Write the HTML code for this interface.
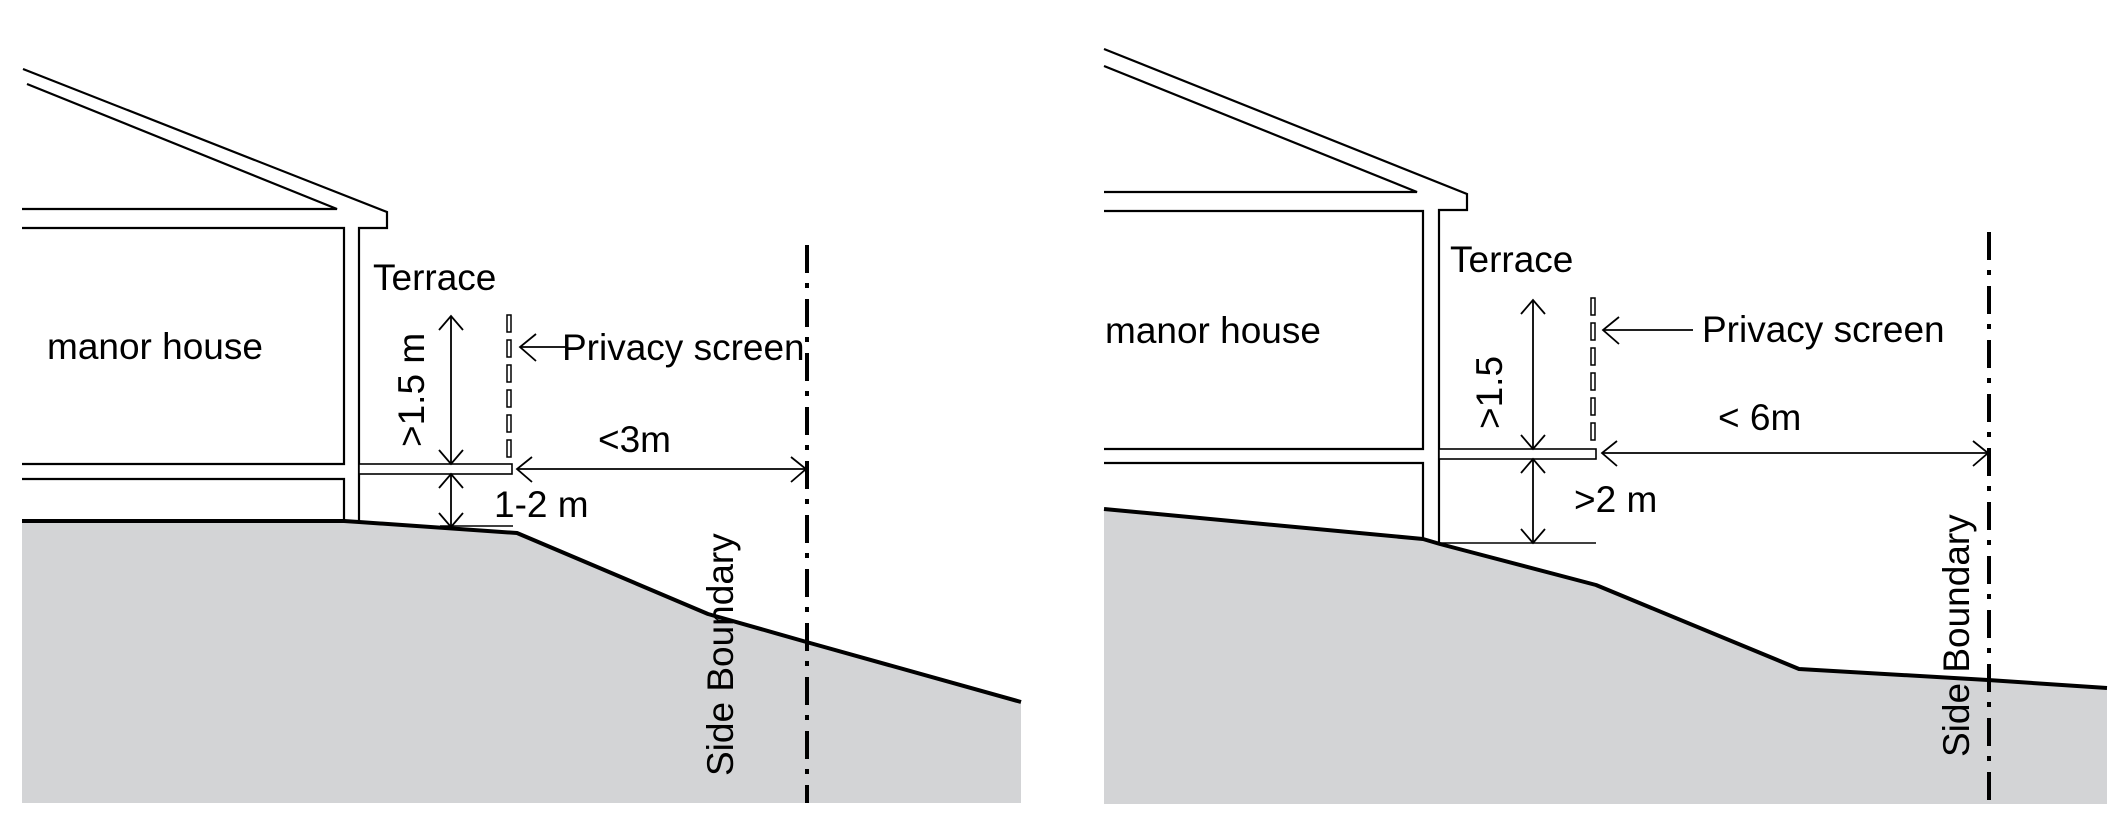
<!DOCTYPE html>
<html>
<head>
<meta charset="utf-8">
<style>
  html, body { margin: 0; padding: 0; background: #ffffff; }
  svg { display: block; }
  text { font-family: "Liberation Sans", Arial, sans-serif; font-size: 37px; fill: #000; }
</style>
</head>
<body>
<svg width="2126" height="825" viewBox="0 0 2126 825" xmlns="http://www.w3.org/2000/svg">
  <rect x="0" y="0" width="2126" height="825" fill="#ffffff"/>

  <!-- ================= LEFT PANEL ================= -->
  <!-- ground fill -->
  <polygon points="22,521 344,521 359,522 517,533 708,614 810,643 1021,702 1021,803 22,803" fill="#d3d4d6"/>
  <polyline points="22,521 344,521 359,522 517,533 708,614 810,643 1021,702" fill="none" stroke="#000" stroke-width="4" stroke-linejoin="round"/>

  <!-- house -->
  <g fill="none" stroke="#000" stroke-width="2.2" stroke-linejoin="miter">
    <path d="M23,69 L387,212 L387,228 L359,228 L359,522"/>
    <path d="M22,209 L337,209 L27,84"/>
    <path d="M22,228 L344,228 L344,464 L22,464"/>
    <path d="M22,479 L344,479 L344,521"/>
  </g>
  <!-- terrace slab -->
  <rect x="359" y="464" width="153" height="10" fill="#fff" stroke="#000" stroke-width="1.6"/>

  <!-- privacy screen -->
  <g fill="#fff" stroke="#000" stroke-width="1.5">
    <rect x="507" y="315" width="4" height="17"/>
    <rect x="507" y="340" width="4" height="17"/>
    <rect x="507" y="365" width="4" height="17"/>
    <rect x="507" y="390" width="4" height="17"/>
    <rect x="507" y="415" width="4" height="17"/>
    <rect x="507" y="440" width="4" height="17"/>
  </g>

  <!-- dimensions left -->
  <g fill="none" stroke="#000" stroke-width="1.8">
    <line x1="451" y1="316" x2="451" y2="464"/>
    <polyline points="439,330 451,316 463,330"/>
    <polyline points="439,450 451,464 463,450"/>
    <line x1="451" y1="474" x2="451" y2="527"/>
    <polyline points="439,488 451,474 463,488"/>
    <polyline points="439,513 451,527 463,513"/>
    <line x1="440" y1="526" x2="513" y2="526" stroke-width="1.4"/>
    <line x1="517" y1="469" x2="806" y2="469"/>
    <polyline points="532,457 517,469 532,482"/>
    <polyline points="791,457 806,469 791,482"/>
    <line x1="520" y1="347" x2="567" y2="347"/>
    <polyline points="536,334 520,347 536,361"/>
  </g>

  <!-- side boundary left -->
  <line x1="807" y1="245" x2="807" y2="803" stroke="#000" stroke-width="4" stroke-dasharray="28 10 5 11"/>

  <!-- texts left -->
  <text x="47" y="359">manor house</text>
  <text x="373" y="290">Terrace</text>
  <text x="562" y="360">Privacy screen</text>
  <text x="598" y="452">&lt;3m</text>
  <text x="494" y="517">1-2 m</text>
  <text transform="translate(424,447) rotate(-90)">&gt;1.5 m</text>
  <text transform="translate(733,776) rotate(-90)">Side Boundary</text>

  <!-- ================= RIGHT PANEL ================= -->
  <polygon points="1104,509 1423,539 1440,544 1596,585 1799,669 1988,680 2107,688 2107,804 1104,804" fill="#d3d4d6"/>
  <polyline points="1104,509 1423,539 1440,544 1596,585 1799,669 1988,680 2107,688" fill="none" stroke="#000" stroke-width="4" stroke-linejoin="round"/>

  <g fill="none" stroke="#000" stroke-width="2.2" stroke-linejoin="miter">
    <path d="M1104,49 L1467,194 L1467,210 L1439,210 L1439,543"/>
    <path d="M1104,192 L1417,192 L1104,66"/>
    <path d="M1104,211 L1423,211 L1423,449 L1104,449"/>
    <path d="M1104,463 L1423,463 L1423,539"/>
  </g>
  <rect x="1439" y="449" width="157" height="10" fill="#fff" stroke="#000" stroke-width="1.6"/>

  <g fill="#fff" stroke="#000" stroke-width="1.5">
    <rect x="1591" y="298" width="4" height="17"/>
    <rect x="1591" y="323" width="4" height="17"/>
    <rect x="1591" y="348" width="4" height="17"/>
    <rect x="1591" y="373" width="4" height="17"/>
    <rect x="1591" y="398" width="4" height="17"/>
    <rect x="1591" y="423" width="4" height="17"/>
  </g>

  <g fill="none" stroke="#000" stroke-width="1.8">
    <line x1="1533" y1="300" x2="1533" y2="449"/>
    <polyline points="1521,314 1533,300 1545,314"/>
    <polyline points="1521,435 1533,449 1545,435"/>
    <line x1="1533" y1="459" x2="1533" y2="543"/>
    <polyline points="1521,473 1533,459 1545,473"/>
    <polyline points="1521,529 1533,543 1545,529"/>
    <line x1="1439" y1="543" x2="1596" y2="543" stroke-width="1.4"/>
    <line x1="1602" y1="453" x2="1988" y2="453"/>
    <polyline points="1617,441 1602,453 1617,466"/>
    <polyline points="1973,441 1988,453 1973,466"/>
    <line x1="1603" y1="330" x2="1693" y2="330"/>
    <polyline points="1619,317 1603,330 1619,344"/>
  </g>

  <line x1="1989" y1="232" x2="1989" y2="804" stroke="#000" stroke-width="4" stroke-dasharray="28 10 5 11"/>

  <text x="1105" y="343">manor house</text>
  <text x="1450" y="272">Terrace</text>
  <text x="1702" y="342">Privacy screen</text>
  <text x="1718" y="430">&lt; 6m</text>
  <text x="1574" y="512">&gt;2 m</text>
  <text transform="translate(1502,429) rotate(-90)">&gt;1.5</text>
  <text transform="translate(1969,757) rotate(-90)">Side Boundary</text>
</svg>
</body>
</html>
